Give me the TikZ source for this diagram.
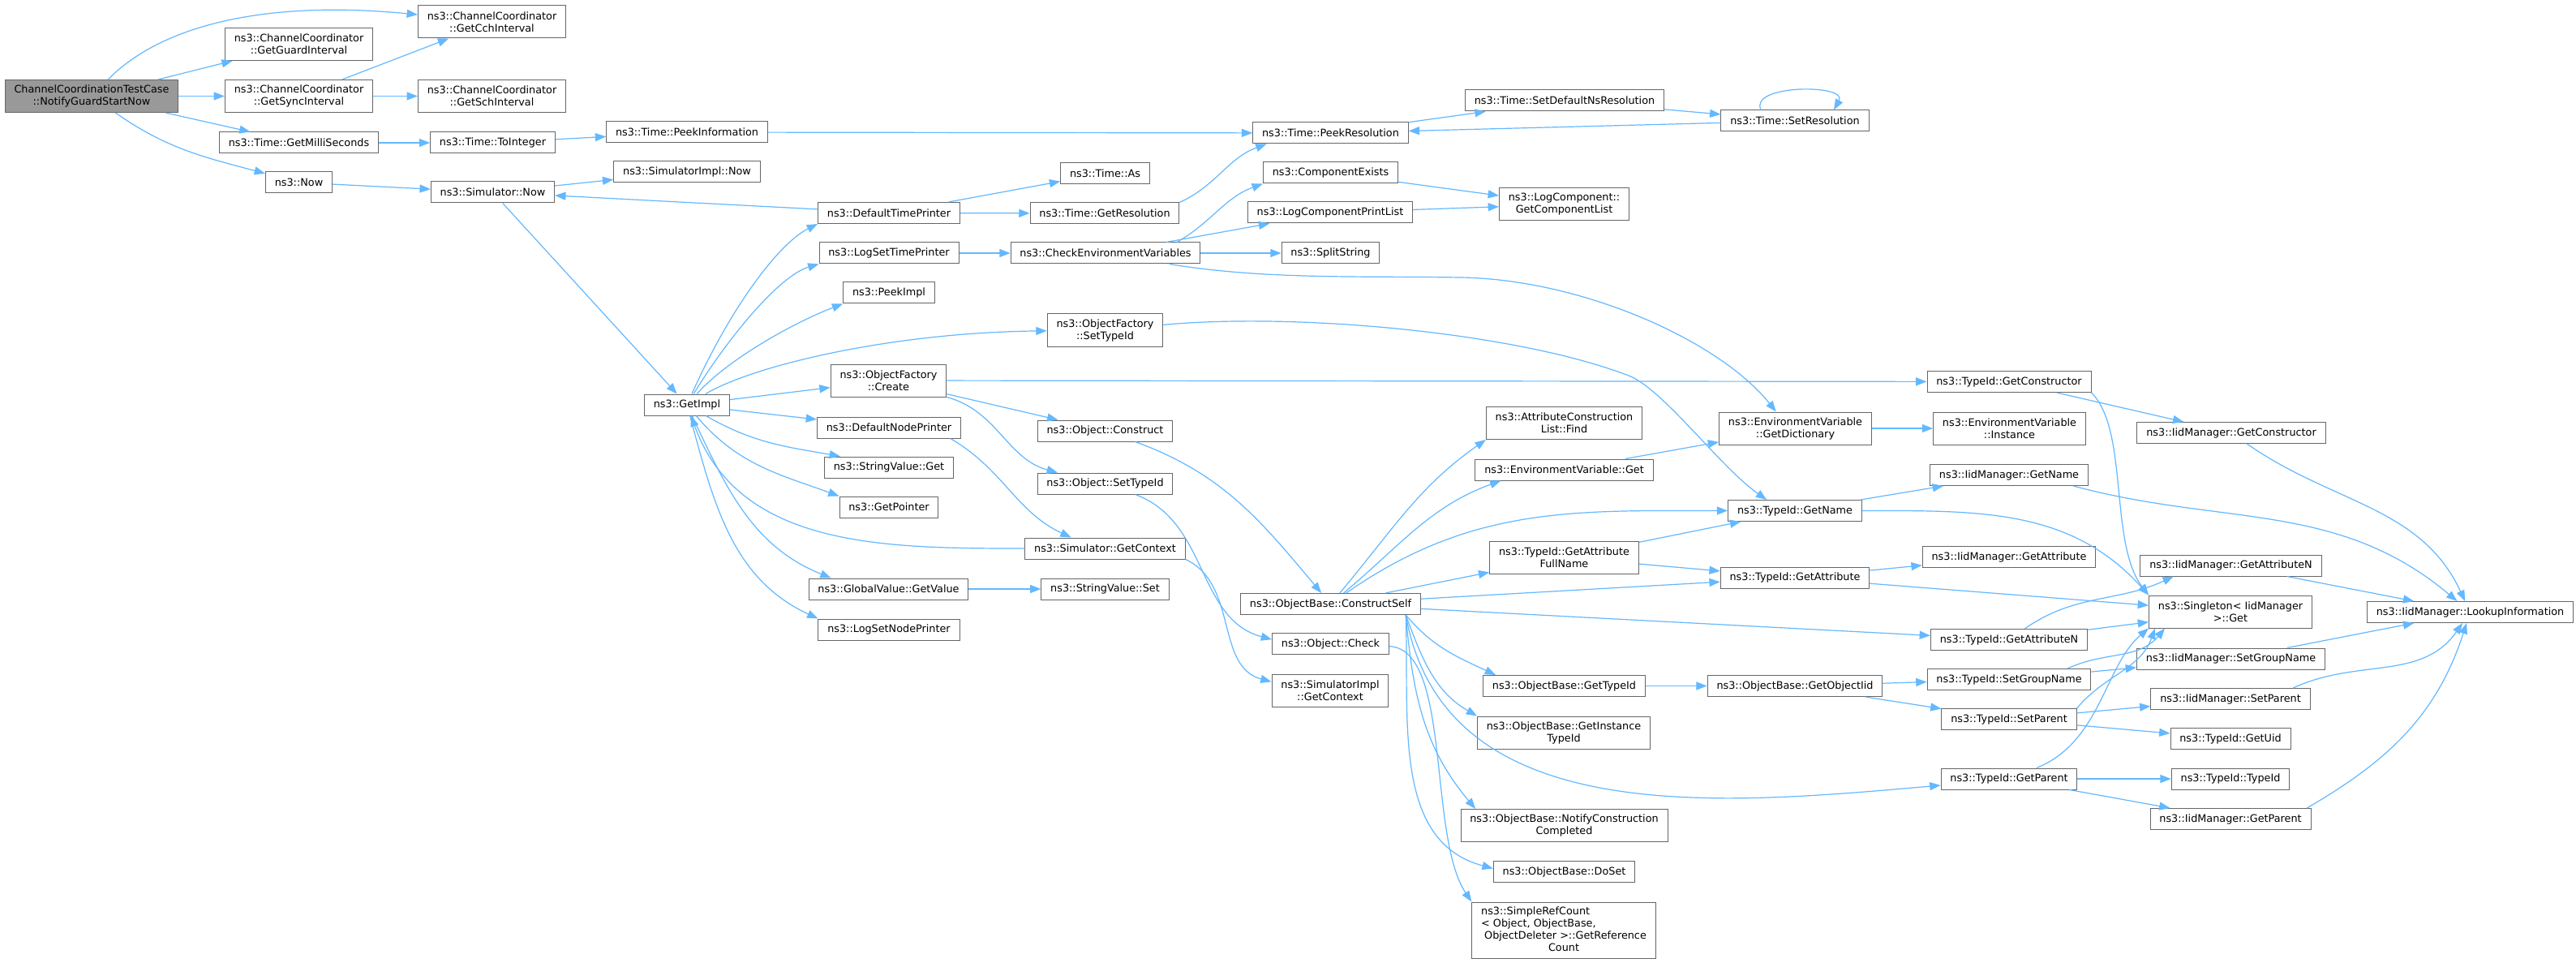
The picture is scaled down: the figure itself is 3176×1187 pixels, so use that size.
\documentclass[tikz,border=0pt]{standalone}
\usepackage{fontspec}
\setmainfont{DejaVu Sans}
\usetikzlibrary{arrows.meta}
\definecolor{edgeblue}{HTML}{63B8FF}
\definecolor{boxgray}{HTML}{666666}
\definecolor{maingray}{HTML}{999999}

\begin{document}
\begin{tikzpicture}[->,>={Triangle[length=10pt,width=7.5pt]},x=0.75pt,y=0.75pt,
  callline/.style={draw=edgeblue,line width=0.9pt},
  every edge/.style={callline},
  fn/.style={draw=boxgray,fill=white,line width=0.75pt,
    font=\fontsize{9.6pt}{11.25pt}\selectfont,align=center,
    inner xsep=8.5pt,inner ysep=2pt,minimum height=19.5pt},
  fntwo/.style={fn,minimum height=30pt},
  rootfn/.style={fntwo,fill=maingray}]
  \useasboundingbox[fill=white] (0,0) rectangle (3176,-1187);

  % column 0 and 1
  \node[rootfn] (main) at (113,-118.5) {ChannelCoordinationTestCase\\::NotifyGuardStartNow};
  \node[fntwo] (guard) at (368.5,-54.5) {ns3::ChannelCoordinator\\::GetGuardInterval};
  \node[fntwo] (sync) at (368.5,-118.5) {ns3::ChannelCoordinator\\::GetSyncInterval};
  \node[fn] (milli) at (368.5,-176) {ns3::Time::GetMilliSeconds};
  \node[fn] (now) at (368.5,-225) {ns3::Now};
  % column 2
  \node[fntwo] (cch) at (606.5,-27) {ns3::ChannelCoordinator\\::GetCchInterval};
  \node[fntwo] (sch) at (606.5,-118.5) {ns3::ChannelCoordinator\\::GetSchInterval};
  \node[fn] (toint) at (607.5,-176) {ns3::Time::ToInteger};
  \node[fn] (simnow) at (607.5,-237) {ns3::Simulator::Now};
  % column 3
  \node[fn] (peekinfo) at (847,-163) {ns3::Time::PeekInformation};
  \node[fn] (implnow) at (847,-212) {ns3::SimulatorImpl::Now};
  \node[fn] (getimpl) at (847,-499) {ns3::GetImpl};
  % column 4
  \node[fn] (deftime) at (1096,-262.5) {ns3::DefaultTimePrinter};
  \node[fn] (logtime) at (1096,-312) {ns3::LogSetTimePrinter};
  \node[fn] (peekimpl) at (1096,-361) {ns3::PeekImpl};
  \node[fntwo] (create) at (1095.5,-469) {ns3::ObjectFactory\\::Create};
  \node[fn] (defnode) at (1096,-527) {ns3::DefaultNodePrinter};
  \node[fn] (strget) at (1096,-576) {ns3::StringValue::Get};
  \node[fn] (getptr) at (1096,-625) {ns3::GetPointer};
  \node[fn] (globval) at (1095.5,-726) {ns3::GlobalValue::GetValue};
  \node[fn] (lognode) at (1096,-776) {ns3::LogSetNodePrinter};
  % column 5
  \node[fn] (timeas) at (1362.5,-213.5) {ns3::Time::As};
  \node[fn] (getres) at (1362,-263) {ns3::Time::GetResolution};
  \node[fn] (checkenv) at (1363,-312) {ns3::CheckEnvironmentVariables};
  \node[fntwo] (factid) at (1362.5,-407) {ns3::ObjectFactory\\::SetTypeId};
  \node[fn] (construct) at (1362.5,-531) {ns3::Object::Construct};
  \node[fn] (objsetid) at (1362.5,-596) {ns3::Object::SetTypeId};
  \node[fn] (getctx) at (1362.5,-676) {ns3::Simulator::GetContext};
  \node[fn] (strset) at (1362.5,-726) {ns3::StringValue::Set};
  % column 6
  \node[fn] (peekres) at (1640.5,-164) {ns3::Time::PeekResolution};
  \node[fn] (compexists) at (1640.5,-213) {ns3::ComponentExists};
  \node[fn] (printlist) at (1640,-262) {ns3::LogComponentPrintList};
  \node[fn] (split) at (1640.5,-312) {ns3::SplitString};
  \node[fn] (cself) at (1640.5,-744.5) {ns3::ObjectBase::ConstructSelf};
  \node[fn] (check) at (1640.5,-793.5) {ns3::Object::Check};
  \node[fntwo] (implctx) at (1640,-851) {ns3::SimulatorImpl\\::GetContext};
  % column 7
  \node[fn] (setdefres) at (1929,-124) {ns3::Time::SetDefaultNsResolution};
  \node[fntwo] (complist) at (1928.5,-252) {ns3::LogComponent::\\GetComponentList};
  \node[fntwo] (find) at (1928.5,-521.5) {ns3::AttributeConstruction\\List::Find};
  \node[fn] (envget) at (1928.5,-579) {ns3::EnvironmentVariable::Get};
  \node[fntwo] (fullname) at (1928.5,-687) {ns3::TypeId::GetAttribute\\FullName};
  \node[fn] (obtypeid) at (1928.5,-845.5) {ns3::ObjectBase::GetTypeId};
  \node[fntwo] (insttid) at (1928,-903) {ns3::ObjectBase::GetInstance\\TypeId};
  \node[fntwo] (notify) at (1928.5,-1017.5) {ns3::ObjectBase::NotifyConstruction\\Completed};
  \node[fn] (doset) at (1928.5,-1074.5) {ns3::ObjectBase::DoSet};
  \node[fn,minimum height=51.75pt] (refcount) at (1928,-1146.5)
    {\begin{tabular}{@{}l@{}}ns3::SimpleRefCount\\< Object, ObjectBase,\\\ ObjectDeleter >::GetReference\\\multicolumn{1}{@{}c@{}}{Count}\end{tabular}};
  % column 8
  \node[fn] (setres) at (2213,-149) {ns3::Time::SetResolution};
  \node[fntwo] (dict) at (2213.5,-528) {ns3::EnvironmentVariable\\::GetDictionary};
  \node[fn] (tidname) at (2213,-629.5) {ns3::TypeId::GetName};
  \node[fn] (tidattr) at (2213,-712) {ns3::TypeId::GetAttribute};
  \node[fn] (objiid) at (2213,-845.5) {ns3::ObjectBase::GetObjectIid};
  % column 9
  \node[fn] (tidctor) at (2477,-470.5) {ns3::TypeId::GetConstructor};
  \node[fntwo] (instance) at (2477.5,-528) {ns3::EnvironmentVariable\\::Instance};
  \node[fn] (iidname) at (2477,-585.5) {ns3::IidManager::GetName};
  \node[fn] (iidattr) at (2477,-686.5) {ns3::IidManager::GetAttribute};
  \node[fn] (tidattrn) at (2477,-788.5) {ns3::TypeId::GetAttributeN};
  \node[fn] (tidgroup) at (2477,-837.5) {ns3::TypeId::SetGroupName};
  \node[fn] (tidsetpar) at (2477,-886.5) {ns3::TypeId::SetParent};
  \node[fn] (tidgetpar) at (2477,-960) {ns3::TypeId::GetParent};
  % column 10
  \node[fn] (iidctor) at (2751,-533.5) {ns3::IidManager::GetConstructor};
  \node[fn] (iidattrn) at (2750.5,-697) {ns3::IidManager::GetAttributeN};
  \node[fntwo] (singleton) at (2750,-754) {ns3::Singleton< IidManager\\>::Get};
  \node[fn] (iidgroup) at (2750.5,-812) {ns3::IidManager::SetGroupName};
  \node[fn] (iidsetpar) at (2750,-861.5) {ns3::IidManager::SetParent};
  \node[fn] (getuid) at (2750,-910.5) {ns3::TypeId::GetUid};
  \node[fn] (typeid) at (2750,-960) {ns3::TypeId::TypeId};
  \node[fn] (iidgetpar) at (2750,-1009.5) {ns3::IidManager::GetParent};
  % column 11
  \node[fn] (lookup) at (3045.5,-754.5) {ns3::IidManager::LookupInformation};

  % calls
  \draw[callline] (main) .. controls (200,-30) and (330,0) .. (cch);
  \path
    (main) edge (guard)
    (main) edge (sync)
    (main) edge (milli)
    (main) edge[out=-35,in=165] (now)
    (sync) edge (cch)
    (sync) edge (sch)
    (milli) edge (toint)
    (toint) edge (peekinfo)
    (peekinfo) edge (peekres)
    (now) edge (simnow)
    (simnow) edge (implnow)
    (simnow) edge (getimpl)
    (deftime) edge (simnow)
    (deftime) edge (timeas)
    (deftime) edge (getres)
    (getres.north east) edge[out=25,in=-160] ([xshift=13pt]peekres.south west)
    (peekres) edge (setdefres)
    (setdefres) edge (setres)
    (setres) edge (peekres);
  \draw[callline] ([xshift=-31.5pt]setres.north) .. controls +(-15,32) and +(18,32) .. ([xshift=36pt]setres.north);

  % from GetImpl
  \draw[callline] (getimpl) .. controls (900,-380) and (960,-300) .. (deftime.south west);
  \draw[callline] (getimpl) .. controls (895,-420) and (960,-340) .. (logtime.south west);
  \draw[callline] (getimpl) .. controls (900,-440) and (985,-395) .. (peekimpl.south west);
  \draw[callline] (getimpl) .. controls (930,-450) and (1100,-410) .. (factid);
  \path
    (getimpl) edge (create)
    (getimpl) edge (defnode)
    (getimpl) edge[out=-30,in=170] ([xshift=15pt]strget.north west)
    (getimpl) edge[out=-50,in=160] (getptr.north west)
    (getimpl) edge[out=-65,in=158] ([xshift=21pt]globval.north west)
    (getimpl) edge[out=-75,in=155] (lognode.north west)
    (getctx) edge[out=180,in=-70] (getimpl)
    (logtime) edge (checkenv)
    ([xshift=-22pt]checkenv.north east) edge[out=30,in=-160] (compexists.south west)
    (checkenv) edge (printlist)
    (checkenv) edge (split)
    (compexists) edge (complist)
    (printlist) edge (complist)
    (create) edge (tidctor)
    (create) edge (construct)
    (create.south east) edge[out=-15,in=165] ([xshift=19pt]objsetid.north west)
    ([xshift=-10pt]defnode.south east) edge[out=-30,in=155] ([xshift=43pt]getctx.north west)
    (globval) edge (strset)
    (construct) edge[out=-20,in=130] (cself)
    (objsetid) edge[out=-20,in=165] ([yshift=4pt]check.west)
    (getctx.south east) edge[out=-25,in=165] ([yshift=8pt]implctx.west);
  \draw[callline] ([xshift=-29pt]checkenv.south east) .. controls (1560,-345) and (1680,-340) .. (1800,-342)
    .. controls (1950,-344) and (2120,-420) .. ([xshift=53pt]dict.north west);
  \draw[callline] (factid) .. controls (1600,-385) and (1870,-410) .. (2008,-463)
    .. controls (2050,-479) and (2120,-575) .. ([xshift=36pt]tidname.north west);

  % from ConstructSelf
  \path
    (cself) edge[out=50,in=-145] (find.south west)
    (cself) edge[out=40,in=-160] ([xshift=24pt]envget.south west)
    (cself) edge[out=35,in=180] (tidname)
    (cself) edge (fullname)
    (cself) edge (tidattr)
    (cself) edge (tidattrn)
    ([xshift=-14pt]cself.south east) edge[out=-50,in=155] ([xshift=12pt]obtypeid.north west)
    ([xshift=-14pt]cself.south east) edge[out=-70,in=150] (insttid.north west)
    ([xshift=-14pt]cself.south east) edge[out=-85,in=130] ([xshift=14pt]notify.north west)
    ([xshift=-14pt]cself.south east) edge[out=-88,in=165] ([yshift=3pt]doset.west)
    ([xshift=-14pt]cself.south east) edge[out=-80,in=185] ([yshift=-6pt]tidgetpar.west)
    (envget) edge (dict)
    (dict) edge (instance)
    (fullname) edge (tidname)
    (fullname) edge (tidattr)
    (obtypeid) edge (objiid)
    (objiid) edge (tidgroup)
    (objiid) edge (tidsetpar);
  \draw[callline] (check) .. controls (1790,-800) and (1760,-1030) .. (refcount.north west);

  % TypeId and IidManager
  \path
    (tidname) edge (iidname)
    (tidname) edge[out=0,in=132] (singleton.north west)
    (tidattr) edge (iidattr)
    (tidattr) edge (singleton)
    (tidctor) edge (iidctor)
    (tidattrn) edge[out=35,in=-155] ([xshift=31pt]iidattrn.south west)
    (tidattrn) edge (singleton)
    (tidgroup) edge (iidgroup)
    ([xshift=-22pt]tidgroup.north east) edge[out=25,in=-130] ([xshift=15pt]singleton.south west)
    (tidsetpar) edge (iidsetpar)
    (tidsetpar) edge (getuid)
    (tidsetpar.north east) edge[out=50,in=-110] ([xshift=6pt]singleton.south west)
    (tidgetpar) edge (typeid)
    (tidgetpar) edge (iidgetpar)
    (iidctor) edge[out=-35,in=115] (lookup)
    ([xshift=-14pt]iidname.south east) edge[out=-15,in=140] (lookup)
    (iidattrn) edge (lookup)
    (iidgroup) edge (lookup)
    ([xshift=-16pt]iidsetpar.north east) edge[out=25,in=-125] (lookup)
    ([xshift=-4pt]iidgetpar.north east) edge[out=30,in=-108] (lookup);
  \draw[callline] (tidctor.south east) .. controls (2625,-530) and (2600,-670) .. (singleton.north west);
  \draw[callline] (tidgetpar) .. controls (2590,-915) and (2595,-820) .. (singleton.south west);
\end{tikzpicture}
\end{document}
